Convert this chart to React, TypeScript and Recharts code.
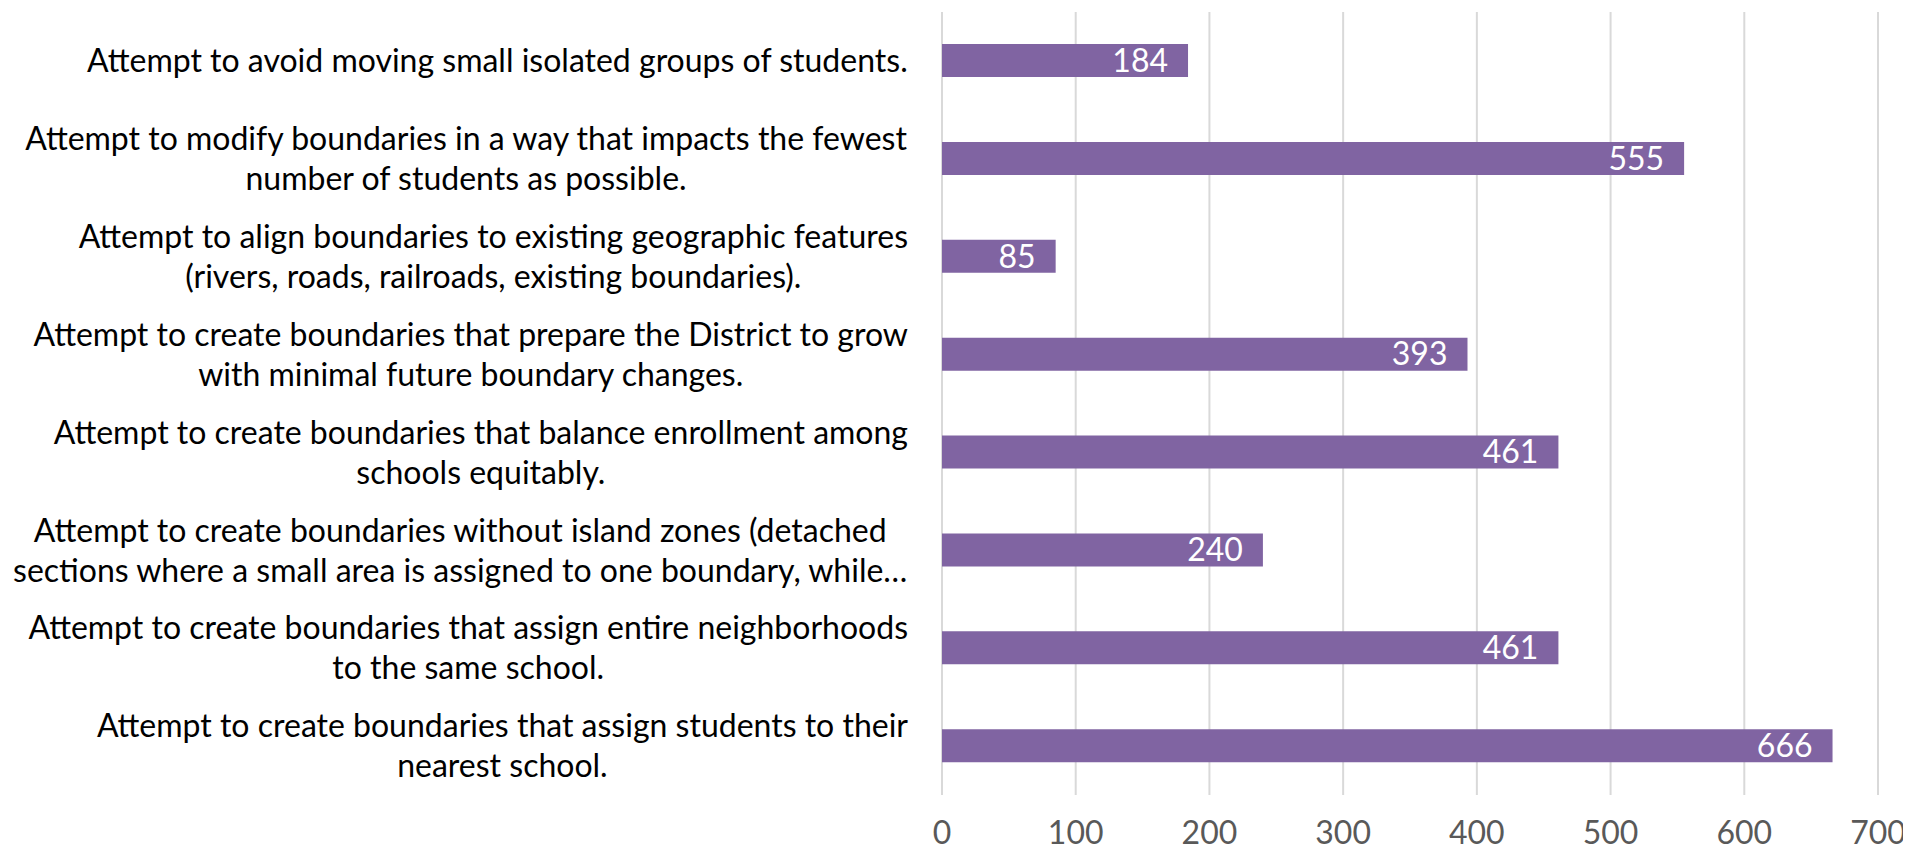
import { Bar, BarChart, CartesianGrid, LabelList, XAxis, YAxis } from 'recharts'

const categories = [
  'Attempt to avoid moving small isolated groups of students.',
  'Attempt to modify boundaries in a way that impacts the fewest\nnumber of students as possible.',
  'Attempt to align boundaries to existing geographic features\n(rivers, roads, railroads, existing boundaries).',
  'Attempt to create boundaries that prepare the District to grow\nwith minimal future boundary changes.',
  'Attempt to create boundaries that balance enrollment among\nschools equitably.',
  'Attempt to create boundaries without island zones (detached\nsections where a small area is assigned to one boundary, while…',
  'Attempt to create boundaries that assign entire neighborhoods\nto the same school.',
  'Attempt to create boundaries that assign students to their\nnearest school.',
]
const responses = [184, 555, 85, 393, 461, 240, 461, 666]
const xTicks = [0, 100, 200, 300, 400, 500, 600, 700]

const data = categories.map((name, i) => ({ name, value: responses[i] }))

const FONT = 'Lato, "Open Sans", sans-serif'
const FONT_SIZE = 32
const LINE_H = 40

let ctx: CanvasRenderingContext2D | null = null
function textWidth(t: string) {
  if (!ctx) ctx = document.createElement('canvas').getContext('2d')
  if (!ctx) return t.length * FONT_SIZE * 0.5
  ctx.font = `${FONT_SIZE}px ${FONT}`
  return ctx.measureText(t).width
}

function CategoryTick(props: any) {
  const { x, y, payload } = props
  const lines = String(payload.value).split('\n')
  const maxW = Math.max(...lines.map(textWidth))
  const cx = x - maxW / 2
  const first = -((lines.length - 1) * LINE_H) / 2 + FONT_SIZE * 0.35
  return (
    <text x={cx} y={y} textAnchor="middle" fill="#000000" fontSize={FONT_SIZE} fontFamily={FONT}>
      {lines.map((l, i) => (
        <tspan key={i} x={cx} dy={i === 0 ? first : LINE_H}>
          {l}
        </tspan>
      ))}
    </text>
  )
}

export default function App() {
  return (
    <div style={{ margin: -8, width: 1911, height: 852, background: '#fff' }}>
      <BarChart
        width={1911}
        height={852}
        data={data}
        layout="vertical"
        margin={{ top: 12, right: 33, left: 0, bottom: 0 }}
      >
        <CartesianGrid stroke="#d9d9d9" strokeWidth={2} horizontal={false} />
        <XAxis
          type="number"
          domain={[0, 700]}
          ticks={xTicks}
          axisLine={false}
          tickLine={false}
          height={57}
          tickMargin={20}
          tick={{ fill: '#595959', fontSize: FONT_SIZE, fontFamily: FONT }}
          interval={0}
        />
        <YAxis
          type="category"
          dataKey="name"
          width={942}
          axisLine={false}
          tickLine={false}
          tickMargin={28}
          tick={<CategoryTick />}
          interval={0}
        />
        <Bar dataKey="value" fill="#8064a2" barSize={33} isAnimationActive={false}>
          <LabelList
            dataKey="value"
            position="insideRight"
            offset={20}
            fill="#ffffff"
            fontSize={FONT_SIZE}
            fontFamily={FONT}
          />
        </Bar>
      </BarChart>
    </div>
  )
}
